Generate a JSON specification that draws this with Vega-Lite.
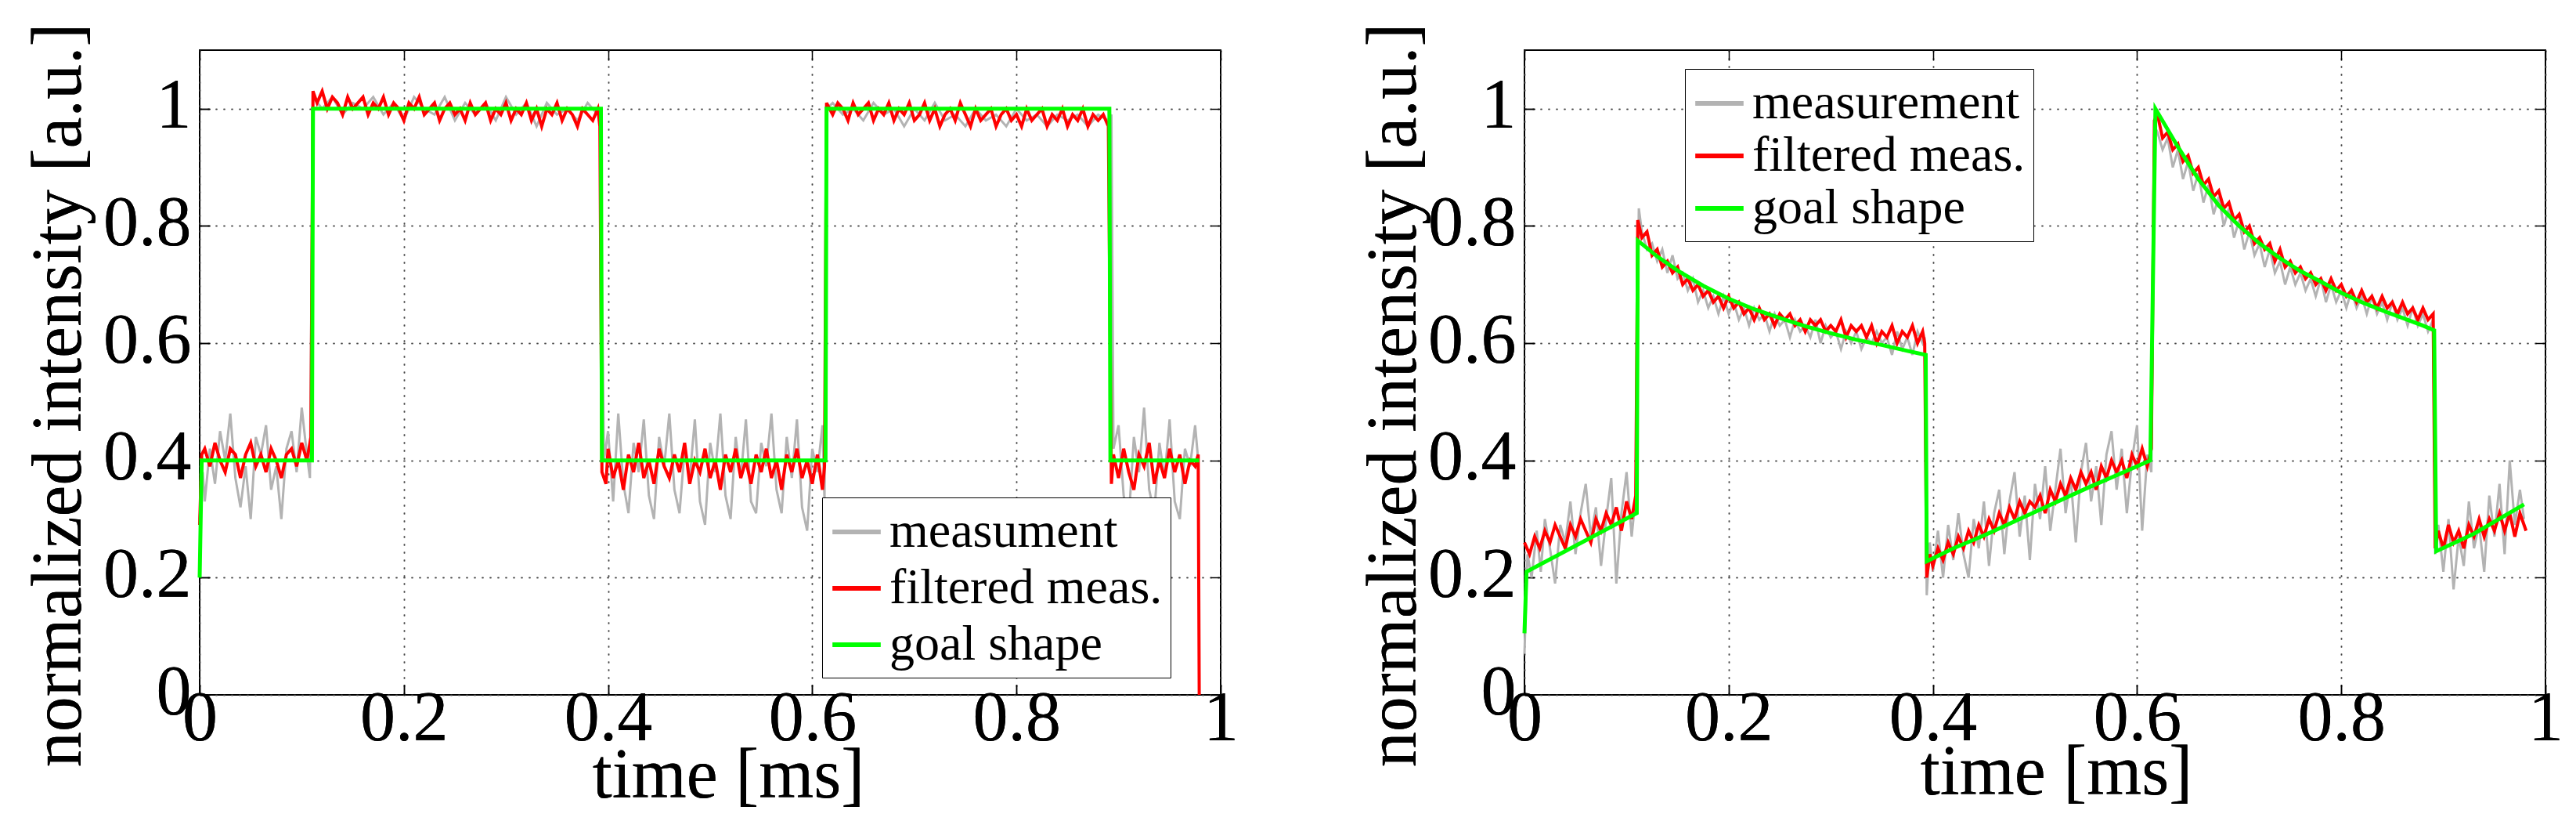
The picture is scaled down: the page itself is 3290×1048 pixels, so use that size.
{
  "$schema": "https://vega.github.io/schema/vega-lite/v6.json",
  "background": "white",
  "padding": {"left": 28, "top": 28, "right": 5, "bottom": 5},
  "spacing": 150,
  "config": {
    "view": {"stroke": "black", "strokeWidth": 2},
    "axis": {
      "labelFont": "Liberation Serif", "titleFont": "Liberation Serif",
      "labelFontSize": 90, "titleFontSize": 90, "titleFontWeight": "normal",
      "labelColor": "black", "titleColor": "black", "domain": false,
      "tickColor": "black", "tickWidth": 1.5, "tickSize": -13,
      "gridColor": "#444", "gridDash": [2, 8], "gridWidth": 1.5,
      "labelFlush": false, "labelOverlap": false
    },
    "legend": {
      "labelFont": "Liberation Serif", "labelFontSize": 64, "labelColor": "black", "labelLimit": 0,
      "symbolType": "stroke", "symbolStrokeWidth": 6, "symbolSize": 3800,
      "strokeColor": "black", "fillColor": "white", "padding": 10,
      "rowPadding": 5, "labelOffset": 8, "orient": "none"
    }
  },
  "resolve": {"scale": {"color": "independent"}},
  "datasets": {
    "L": [
      {"series":"goal shape","t":0,"v":0.2},{"series":"goal shape","t":0.002,"v":0.4},{"series":"goal shape","t":0.11,"v":0.4},{"series":"goal shape","t":0.111,"v":1.0},{"series":"goal shape","t":0.393,"v":1.0},{"series":"goal shape","t":0.394,"v":0.4},{"series":"goal shape","t":0.613,"v":0.4},{"series":"goal shape","t":0.614,"v":1.0},{"series":"goal shape","t":0.891,"v":1.0},{"series":"goal shape","t":0.892,"v":0.4},{"series":"goal shape","t":0.979,"v":0.4},

      {"series":"filtered meas.","t":0,"v":0.29},{"series":"filtered meas.","t":0.002,"v":0.41},{"series":"filtered meas.","t":0.005,"v":0.42},{"series":"filtered meas.","t":0.01,"v":0.39},{"series":"filtered meas.","t":0.015,"v":0.43},{"series":"filtered meas.","t":0.02,"v":0.40},{"series":"filtered meas.","t":0.025,"v":0.38},{"series":"filtered meas.","t":0.03,"v":0.42},{"series":"filtered meas.","t":0.035,"v":0.41},{"series":"filtered meas.","t":0.04,"v":0.37},{"series":"filtered meas.","t":0.045,"v":0.41},{"series":"filtered meas.","t":0.05,"v":0.43},{"series":"filtered meas.","t":0.055,"v":0.39},{"series":"filtered meas.","t":0.06,"v":0.41},{"series":"filtered meas.","t":0.065,"v":0.38},{"series":"filtered meas.","t":0.07,"v":0.42},{"series":"filtered meas.","t":0.075,"v":0.40},{"series":"filtered meas.","t":0.08,"v":0.37},{"series":"filtered meas.","t":0.085,"v":0.41},{"series":"filtered meas.","t":0.09,"v":0.42},{"series":"filtered meas.","t":0.095,"v":0.39},{"series":"filtered meas.","t":0.1,"v":0.43},{"series":"filtered meas.","t":0.105,"v":0.40},{"series":"filtered meas.","t":0.109,"v":0.44},
      {"series":"filtered meas.","t":0.111,"v":1.03},{"series":"filtered meas.","t":0.115,"v":1.01},{"series":"filtered meas.","t":0.12,"v":1.03},{"series":"filtered meas.","t":0.125,"v":1.00},{"series":"filtered meas.","t":0.13,"v":1.02},{"series":"filtered meas.","t":0.135,"v":1.01},{"series":"filtered meas.","t":0.14,"v":0.99},{"series":"filtered meas.","t":0.145,"v":1.02},{"series":"filtered meas.","t":0.15,"v":1.00},{"series":"filtered meas.","t":0.155,"v":1.01},{"series":"filtered meas.","t":0.16,"v":1.02},{"series":"filtered meas.","t":0.165,"v":0.99},{"series":"filtered meas.","t":0.17,"v":1.01},{"series":"filtered meas.","t":0.175,"v":1.00},{"series":"filtered meas.","t":0.18,"v":1.02},{"series":"filtered meas.","t":0.185,"v":0.99},{"series":"filtered meas.","t":0.19,"v":1.01},{"series":"filtered meas.","t":0.195,"v":1.00},{"series":"filtered meas.","t":0.2,"v":0.98},{"series":"filtered meas.","t":0.205,"v":1.01},{"series":"filtered meas.","t":0.21,"v":1.00},{"series":"filtered meas.","t":0.215,"v":1.02},{"series":"filtered meas.","t":0.22,"v":0.99},{"series":"filtered meas.","t":0.225,"v":1.00},{"series":"filtered meas.","t":0.23,"v":1.01},{"series":"filtered meas.","t":0.235,"v":0.98},{"series":"filtered meas.","t":0.24,"v":1.00},{"series":"filtered meas.","t":0.245,"v":1.01},{"series":"filtered meas.","t":0.25,"v":0.99},{"series":"filtered meas.","t":0.255,"v":1.00},{"series":"filtered meas.","t":0.26,"v":0.98},{"series":"filtered meas.","t":0.265,"v":1.01},{"series":"filtered meas.","t":0.27,"v":0.99},{"series":"filtered meas.","t":0.275,"v":1.00},{"series":"filtered meas.","t":0.28,"v":1.01},{"series":"filtered meas.","t":0.285,"v":0.98},{"series":"filtered meas.","t":0.29,"v":1.00},{"series":"filtered meas.","t":0.295,"v":0.99},{"series":"filtered meas.","t":0.3,"v":1.01},{"series":"filtered meas.","t":0.305,"v":0.98},{"series":"filtered meas.","t":0.31,"v":1.00},{"series":"filtered meas.","t":0.315,"v":0.99},{"series":"filtered meas.","t":0.32,"v":1.01},{"series":"filtered meas.","t":0.325,"v":0.98},{"series":"filtered meas.","t":0.33,"v":1.00},{"series":"filtered meas.","t":0.335,"v":0.97},{"series":"filtered meas.","t":0.34,"v":1.00},{"series":"filtered meas.","t":0.345,"v":0.99},{"series":"filtered meas.","t":0.35,"v":1.01},{"series":"filtered meas.","t":0.355,"v":0.98},{"series":"filtered meas.","t":0.36,"v":1.00},{"series":"filtered meas.","t":0.365,"v":0.99},{"series":"filtered meas.","t":0.37,"v":0.97},{"series":"filtered meas.","t":0.375,"v":1.00},{"series":"filtered meas.","t":0.38,"v":0.99},{"series":"filtered meas.","t":0.385,"v":0.98},{"series":"filtered meas.","t":0.39,"v":1.00},{"series":"filtered meas.","t":0.392,"v":0.97},
      {"series":"filtered meas.","t":0.394,"v":0.38},{"series":"filtered meas.","t":0.398,"v":0.36},{"series":"filtered meas.","t":0.4,"v":0.42},{"series":"filtered meas.","t":0.405,"v":0.37},{"series":"filtered meas.","t":0.41,"v":0.40},{"series":"filtered meas.","t":0.415,"v":0.35},{"series":"filtered meas.","t":0.42,"v":0.41},{"series":"filtered meas.","t":0.425,"v":0.38},{"series":"filtered meas.","t":0.43,"v":0.43},{"series":"filtered meas.","t":0.435,"v":0.37},{"series":"filtered meas.","t":0.44,"v":0.40},{"series":"filtered meas.","t":0.445,"v":0.36},{"series":"filtered meas.","t":0.45,"v":0.42},{"series":"filtered meas.","t":0.455,"v":0.39},{"series":"filtered meas.","t":0.46,"v":0.37},{"series":"filtered meas.","t":0.465,"v":0.41},{"series":"filtered meas.","t":0.47,"v":0.38},{"series":"filtered meas.","t":0.475,"v":0.43},{"series":"filtered meas.","t":0.48,"v":0.36},{"series":"filtered meas.","t":0.485,"v":0.40},{"series":"filtered meas.","t":0.49,"v":0.38},{"series":"filtered meas.","t":0.495,"v":0.42},{"series":"filtered meas.","t":0.5,"v":0.37},{"series":"filtered meas.","t":0.505,"v":0.40},{"series":"filtered meas.","t":0.51,"v":0.35},{"series":"filtered meas.","t":0.515,"v":0.41},{"series":"filtered meas.","t":0.52,"v":0.38},{"series":"filtered meas.","t":0.525,"v":0.42},{"series":"filtered meas.","t":0.53,"v":0.37},{"series":"filtered meas.","t":0.535,"v":0.40},{"series":"filtered meas.","t":0.54,"v":0.36},{"series":"filtered meas.","t":0.545,"v":0.41},{"series":"filtered meas.","t":0.55,"v":0.38},{"series":"filtered meas.","t":0.555,"v":0.42},{"series":"filtered meas.","t":0.56,"v":0.37},{"series":"filtered meas.","t":0.565,"v":0.40},{"series":"filtered meas.","t":0.57,"v":0.35},{"series":"filtered meas.","t":0.575,"v":0.41},{"series":"filtered meas.","t":0.58,"v":0.38},{"series":"filtered meas.","t":0.585,"v":0.42},{"series":"filtered meas.","t":0.59,"v":0.37},{"series":"filtered meas.","t":0.595,"v":0.40},{"series":"filtered meas.","t":0.6,"v":0.36},{"series":"filtered meas.","t":0.605,"v":0.41},{"series":"filtered meas.","t":0.61,"v":0.35},{"series":"filtered meas.","t":0.612,"v":0.39},
      {"series":"filtered meas.","t":0.614,"v":1.01},{"series":"filtered meas.","t":0.62,"v":0.99},{"series":"filtered meas.","t":0.625,"v":1.01},{"series":"filtered meas.","t":0.63,"v":1.00},{"series":"filtered meas.","t":0.635,"v":0.98},{"series":"filtered meas.","t":0.64,"v":1.01},{"series":"filtered meas.","t":0.645,"v":0.99},{"series":"filtered meas.","t":0.65,"v":1.00},{"series":"filtered meas.","t":0.655,"v":1.01},{"series":"filtered meas.","t":0.66,"v":0.98},{"series":"filtered meas.","t":0.665,"v":1.00},{"series":"filtered meas.","t":0.67,"v":0.99},{"series":"filtered meas.","t":0.675,"v":1.01},{"series":"filtered meas.","t":0.68,"v":0.98},{"series":"filtered meas.","t":0.685,"v":1.00},{"series":"filtered meas.","t":0.69,"v":0.99},{"series":"filtered meas.","t":0.695,"v":1.01},{"series":"filtered meas.","t":0.7,"v":0.98},{"series":"filtered meas.","t":0.705,"v":0.99},{"series":"filtered meas.","t":0.71,"v":1.01},{"series":"filtered meas.","t":0.715,"v":0.98},{"series":"filtered meas.","t":0.72,"v":1.00},{"series":"filtered meas.","t":0.725,"v":0.97},{"series":"filtered meas.","t":0.73,"v":0.99},{"series":"filtered meas.","t":0.735,"v":1.00},{"series":"filtered meas.","t":0.74,"v":0.98},{"series":"filtered meas.","t":0.745,"v":1.01},{"series":"filtered meas.","t":0.75,"v":0.99},{"series":"filtered meas.","t":0.755,"v":0.97},{"series":"filtered meas.","t":0.76,"v":1.00},{"series":"filtered meas.","t":0.765,"v":0.98},{"series":"filtered meas.","t":0.77,"v":0.99},{"series":"filtered meas.","t":0.775,"v":1.00},{"series":"filtered meas.","t":0.78,"v":0.97},{"series":"filtered meas.","t":0.785,"v":0.99},{"series":"filtered meas.","t":0.79,"v":1.00},{"series":"filtered meas.","t":0.795,"v":0.98},{"series":"filtered meas.","t":0.8,"v":0.99},{"series":"filtered meas.","t":0.805,"v":0.97},{"series":"filtered meas.","t":0.81,"v":1.00},{"series":"filtered meas.","t":0.815,"v":0.98},{"series":"filtered meas.","t":0.82,"v":0.99},{"series":"filtered meas.","t":0.825,"v":1.00},{"series":"filtered meas.","t":0.83,"v":0.97},{"series":"filtered meas.","t":0.835,"v":0.99},{"series":"filtered meas.","t":0.84,"v":0.98},{"series":"filtered meas.","t":0.845,"v":1.00},{"series":"filtered meas.","t":0.85,"v":0.97},{"series":"filtered meas.","t":0.855,"v":0.99},{"series":"filtered meas.","t":0.86,"v":0.98},{"series":"filtered meas.","t":0.865,"v":1.00},{"series":"filtered meas.","t":0.87,"v":0.97},{"series":"filtered meas.","t":0.875,"v":0.99},{"series":"filtered meas.","t":0.88,"v":0.98},{"series":"filtered meas.","t":0.885,"v":0.99},{"series":"filtered meas.","t":0.89,"v":0.97},
      {"series":"filtered meas.","t":0.893,"v":0.36},{"series":"filtered meas.","t":0.895,"v":0.41},{"series":"filtered meas.","t":0.9,"v":0.37},{"series":"filtered meas.","t":0.905,"v":0.42},{"series":"filtered meas.","t":0.91,"v":0.38},{"series":"filtered meas.","t":0.915,"v":0.35},{"series":"filtered meas.","t":0.92,"v":0.41},{"series":"filtered meas.","t":0.925,"v":0.39},{"series":"filtered meas.","t":0.93,"v":0.43},{"series":"filtered meas.","t":0.935,"v":0.36},{"series":"filtered meas.","t":0.94,"v":0.40},{"series":"filtered meas.","t":0.945,"v":0.37},{"series":"filtered meas.","t":0.95,"v":0.42},{"series":"filtered meas.","t":0.955,"v":0.38},{"series":"filtered meas.","t":0.96,"v":0.41},{"series":"filtered meas.","t":0.965,"v":0.36},{"series":"filtered meas.","t":0.97,"v":0.40},{"series":"filtered meas.","t":0.975,"v":0.39},{"series":"filtered meas.","t":0.978,"v":0.41},{"series":"filtered meas.","t":0.979,"v":0.0},

      {"series":"measument","t":0,"v":0.30},{"series":"measument","t":0.003,"v":0.38},{"series":"measument","t":0.005,"v":0.33},{"series":"measument","t":0.01,"v":0.42},{"series":"measument","t":0.015,"v":0.36},{"series":"measument","t":0.02,"v":0.45},{"series":"measument","t":0.025,"v":0.40},{"series":"measument","t":0.03,"v":0.48},{"series":"measument","t":0.035,"v":0.37},{"series":"measument","t":0.04,"v":0.32},{"series":"measument","t":0.045,"v":0.39},{"series":"measument","t":0.05,"v":0.30},{"series":"measument","t":0.055,"v":0.44},{"series":"measument","t":0.06,"v":0.41},{"series":"measument","t":0.065,"v":0.46},{"series":"measument","t":0.07,"v":0.35},{"series":"measument","t":0.075,"v":0.39},{"series":"measument","t":0.08,"v":0.30},{"series":"measument","t":0.085,"v":0.42},{"series":"measument","t":0.09,"v":0.45},{"series":"measument","t":0.095,"v":0.38},{"series":"measument","t":0.1,"v":0.49},{"series":"measument","t":0.105,"v":0.41},{"series":"measument","t":0.108,"v":0.37},
      {"series":"measument","t":0.111,"v":1.02},{"series":"measument","t":0.12,"v":1.00},{"series":"measument","t":0.13,"v":1.02},{"series":"measument","t":0.14,"v":0.99},{"series":"measument","t":0.15,"v":1.01},{"series":"measument","t":0.16,"v":1.00},{"series":"measument","t":0.17,"v":1.02},{"series":"measument","t":0.18,"v":0.99},{"series":"measument","t":0.19,"v":1.01},{"series":"measument","t":0.2,"v":0.98},{"series":"measument","t":0.21,"v":1.02},{"series":"measument","t":0.22,"v":1.00},{"series":"measument","t":0.23,"v":0.99},{"series":"measument","t":0.24,"v":1.02},{"series":"measument","t":0.25,"v":0.98},{"series":"measument","t":0.26,"v":1.01},{"series":"measument","t":0.27,"v":0.99},{"series":"measument","t":0.28,"v":1.01},{"series":"measument","t":0.29,"v":0.98},{"series":"measument","t":0.3,"v":1.02},{"series":"measument","t":0.31,"v":0.99},{"series":"measument","t":0.32,"v":1.01},{"series":"measument","t":0.33,"v":0.97},{"series":"measument","t":0.34,"v":1.01},{"series":"measument","t":0.35,"v":0.99},{"series":"measument","t":0.36,"v":1.00},{"series":"measument","t":0.37,"v":0.98},{"series":"measument","t":0.38,"v":1.01},{"series":"measument","t":0.39,"v":0.99},{"series":"measument","t":0.393,"v":0.99},
      {"series":"measument","t":0.394,"v":0.72},{"series":"measument","t":0.396,"v":0.40},{"series":"measument","t":0.4,"v":0.45},{"series":"measument","t":0.405,"v":0.33},{"series":"measument","t":0.41,"v":0.48},{"series":"measument","t":0.415,"v":0.36},{"series":"measument","t":0.42,"v":0.31},{"series":"measument","t":0.425,"v":0.43},{"series":"measument","t":0.43,"v":0.38},{"series":"measument","t":0.435,"v":0.47},{"series":"measument","t":0.44,"v":0.34},{"series":"measument","t":0.445,"v":0.30},{"series":"measument","t":0.45,"v":0.44},{"series":"measument","t":0.455,"v":0.39},{"series":"measument","t":0.46,"v":0.48},{"series":"measument","t":0.465,"v":0.35},{"series":"measument","t":0.47,"v":0.31},{"series":"measument","t":0.475,"v":0.42},{"series":"measument","t":0.48,"v":0.37},{"series":"measument","t":0.485,"v":0.47},{"series":"measument","t":0.49,"v":0.33},{"series":"measument","t":0.495,"v":0.29},{"series":"measument","t":0.5,"v":0.43},{"series":"measument","t":0.505,"v":0.38},{"series":"measument","t":0.51,"v":0.48},{"series":"measument","t":0.515,"v":0.34},{"series":"measument","t":0.52,"v":0.30},{"series":"measument","t":0.525,"v":0.44},{"series":"measument","t":0.53,"v":0.37},{"series":"measument","t":0.535,"v":0.47},{"series":"measument","t":0.54,"v":0.33},{"series":"measument","t":0.545,"v":0.31},{"series":"measument","t":0.55,"v":0.43},{"series":"measument","t":0.555,"v":0.39},{"series":"measument","t":0.56,"v":0.48},{"series":"measument","t":0.565,"v":0.35},{"series":"measument","t":0.57,"v":0.31},{"series":"measument","t":0.575,"v":0.44},{"series":"measument","t":0.58,"v":0.37},{"series":"measument","t":0.585,"v":0.47},{"series":"measument","t":0.59,"v":0.32},{"series":"measument","t":0.595,"v":0.28},{"series":"measument","t":0.6,"v":0.42},{"series":"measument","t":0.605,"v":0.38},{"series":"measument","t":0.61,"v":0.46},{"series":"measument","t":0.612,"v":0.33},
      {"series":"measument","t":0.614,"v":1.00},{"series":"measument","t":0.62,"v":1.01},{"series":"measument","t":0.63,"v":0.99},{"series":"measument","t":0.64,"v":1.00},{"series":"measument","t":0.65,"v":0.98},{"series":"measument","t":0.66,"v":1.01},{"series":"measument","t":0.67,"v":0.99},{"series":"measument","t":0.68,"v":1.00},{"series":"measument","t":0.69,"v":0.97},{"series":"measument","t":0.7,"v":1.00},{"series":"measument","t":0.71,"v":0.98},{"series":"measument","t":0.72,"v":1.01},{"series":"measument","t":0.73,"v":0.98},{"series":"measument","t":0.74,"v":0.99},{"series":"measument","t":0.75,"v":0.97},{"series":"measument","t":0.76,"v":1.00},{"series":"measument","t":0.77,"v":0.98},{"series":"measument","t":0.78,"v":0.99},{"series":"measument","t":0.79,"v":0.97},{"series":"measument","t":0.8,"v":1.00},{"series":"measument","t":0.81,"v":0.98},{"series":"measument","t":0.82,"v":0.99},{"series":"measument","t":0.83,"v":0.97},{"series":"measument","t":0.84,"v":0.99},{"series":"measument","t":0.85,"v":0.98},{"series":"measument","t":0.86,"v":0.99},{"series":"measument","t":0.87,"v":0.97},{"series":"measument","t":0.88,"v":0.99},{"series":"measument","t":0.89,"v":0.98},{"series":"measument","t":0.893,"v":0.99},
      {"series":"measument","t":0.895,"v":0.42},{"series":"measument","t":0.9,"v":0.46},{"series":"measument","t":0.905,"v":0.34},{"series":"measument","t":0.91,"v":0.30},{"series":"measument","t":0.915,"v":0.44},{"series":"measument","t":0.92,"v":0.38},{"series":"measument","t":0.925,"v":0.49},{"series":"measument","t":0.93,"v":0.35},{"series":"measument","t":0.935,"v":0.31},{"series":"measument","t":0.94,"v":0.43},{"series":"measument","t":0.945,"v":0.37},{"series":"measument","t":0.95,"v":0.47},{"series":"measument","t":0.955,"v":0.33},{"series":"measument","t":0.96,"v":0.30},{"series":"measument","t":0.965,"v":0.42},{"series":"measument","t":0.97,"v":0.39},{"series":"measument","t":0.975,"v":0.46},{"series":"measument","t":0.978,"v":0.40}
    ],
    "R": [
      {"series":"goal shape","t":0,"v":0.105},{"series":"goal shape","t":0.002,"v":0.21},{"series":"goal shape","t":0.11,"v":0.31},{"series":"goal shape","t":0.111,"v":0.775},{"series":"goal shape","t":0.13,"v":0.748},{"series":"goal shape","t":0.15,"v":0.724},{"series":"goal shape","t":0.175,"v":0.698},{"series":"goal shape","t":0.2,"v":0.676},{"series":"goal shape","t":0.225,"v":0.658},{"series":"goal shape","t":0.25,"v":0.643},{"series":"goal shape","t":0.275,"v":0.629},{"series":"goal shape","t":0.3,"v":0.617},{"series":"goal shape","t":0.325,"v":0.606},{"series":"goal shape","t":0.35,"v":0.597},{"series":"goal shape","t":0.375,"v":0.587},{"series":"goal shape","t":0.393,"v":0.58},{"series":"goal shape","t":0.394,"v":0.228},{"series":"goal shape","t":0.42,"v":0.25},{"series":"goal shape","t":0.45,"v":0.272},{"series":"goal shape","t":0.5,"v":0.312},{"series":"goal shape","t":0.55,"v":0.352},{"series":"goal shape","t":0.6,"v":0.39},{"series":"goal shape","t":0.613,"v":0.40},{"series":"goal shape","t":0.618,"v":1.0},{"series":"goal shape","t":0.64,"v":0.935},{"series":"goal shape","t":0.66,"v":0.88},{"series":"goal shape","t":0.68,"v":0.835},{"series":"goal shape","t":0.7,"v":0.80},{"series":"goal shape","t":0.72,"v":0.77},{"series":"goal shape","t":0.74,"v":0.745},{"series":"goal shape","t":0.76,"v":0.723},{"series":"goal shape","t":0.78,"v":0.705},{"series":"goal shape","t":0.8,"v":0.686},{"series":"goal shape","t":0.82,"v":0.67},{"series":"goal shape","t":0.84,"v":0.656},{"series":"goal shape","t":0.86,"v":0.643},{"series":"goal shape","t":0.88,"v":0.63},{"series":"goal shape","t":0.891,"v":0.622},{"series":"goal shape","t":0.893,"v":0.245},{"series":"goal shape","t":0.93,"v":0.275},{"series":"goal shape","t":0.979,"v":0.325},

      {"series":"filtered meas.","t":0,"v":0.26},{"series":"filtered meas.","t":0.005,"v":0.24},{"series":"filtered meas.","t":0.01,"v":0.27},{"series":"filtered meas.","t":0.015,"v":0.25},{"series":"filtered meas.","t":0.02,"v":0.28},{"series":"filtered meas.","t":0.025,"v":0.26},{"series":"filtered meas.","t":0.03,"v":0.29},{"series":"filtered meas.","t":0.035,"v":0.27},{"series":"filtered meas.","t":0.04,"v":0.25},{"series":"filtered meas.","t":0.045,"v":0.29},{"series":"filtered meas.","t":0.05,"v":0.27},{"series":"filtered meas.","t":0.055,"v":0.30},{"series":"filtered meas.","t":0.06,"v":0.28},{"series":"filtered meas.","t":0.065,"v":0.26},{"series":"filtered meas.","t":0.07,"v":0.30},{"series":"filtered meas.","t":0.075,"v":0.28},{"series":"filtered meas.","t":0.08,"v":0.31},{"series":"filtered meas.","t":0.085,"v":0.29},{"series":"filtered meas.","t":0.09,"v":0.32},{"series":"filtered meas.","t":0.095,"v":0.28},{"series":"filtered meas.","t":0.1,"v":0.33},{"series":"filtered meas.","t":0.105,"v":0.30},{"series":"filtered meas.","t":0.109,"v":0.34},
      {"series":"filtered meas.","t":0.111,"v":0.81},{"series":"filtered meas.","t":0.115,"v":0.78},{"series":"filtered meas.","t":0.12,"v":0.79},{"series":"filtered meas.","t":0.125,"v":0.75},{"series":"filtered meas.","t":0.13,"v":0.76},{"series":"filtered meas.","t":0.135,"v":0.73},{"series":"filtered meas.","t":0.14,"v":0.74},{"series":"filtered meas.","t":0.145,"v":0.72},{"series":"filtered meas.","t":0.15,"v":0.73},{"series":"filtered meas.","t":0.155,"v":0.70},{"series":"filtered meas.","t":0.16,"v":0.71},{"series":"filtered meas.","t":0.165,"v":0.69},{"series":"filtered meas.","t":0.17,"v":0.70},{"series":"filtered meas.","t":0.175,"v":0.68},{"series":"filtered meas.","t":0.18,"v":0.69},{"series":"filtered meas.","t":0.185,"v":0.67},{"series":"filtered meas.","t":0.19,"v":0.68},{"series":"filtered meas.","t":0.195,"v":0.66},{"series":"filtered meas.","t":0.2,"v":0.68},{"series":"filtered meas.","t":0.205,"v":0.66},{"series":"filtered meas.","t":0.21,"v":0.67},{"series":"filtered meas.","t":0.215,"v":0.65},{"series":"filtered meas.","t":0.22,"v":0.66},{"series":"filtered meas.","t":0.225,"v":0.64},{"series":"filtered meas.","t":0.23,"v":0.66},{"series":"filtered meas.","t":0.235,"v":0.64},{"series":"filtered meas.","t":0.24,"v":0.65},{"series":"filtered meas.","t":0.245,"v":0.63},{"series":"filtered meas.","t":0.25,"v":0.65},{"series":"filtered meas.","t":0.255,"v":0.64},{"series":"filtered meas.","t":0.26,"v":0.65},{"series":"filtered meas.","t":0.265,"v":0.63},{"series":"filtered meas.","t":0.27,"v":0.64},{"series":"filtered meas.","t":0.275,"v":0.62},{"series":"filtered meas.","t":0.28,"v":0.64},{"series":"filtered meas.","t":0.285,"v":0.63},{"series":"filtered meas.","t":0.29,"v":0.64},{"series":"filtered meas.","t":0.295,"v":0.62},{"series":"filtered meas.","t":0.3,"v":0.63},{"series":"filtered meas.","t":0.305,"v":0.62},{"series":"filtered meas.","t":0.31,"v":0.64},{"series":"filtered meas.","t":0.315,"v":0.61},{"series":"filtered meas.","t":0.32,"v":0.63},{"series":"filtered meas.","t":0.325,"v":0.62},{"series":"filtered meas.","t":0.33,"v":0.63},{"series":"filtered meas.","t":0.335,"v":0.61},{"series":"filtered meas.","t":0.34,"v":0.63},{"series":"filtered meas.","t":0.345,"v":0.60},{"series":"filtered meas.","t":0.35,"v":0.62},{"series":"filtered meas.","t":0.355,"v":0.61},{"series":"filtered meas.","t":0.36,"v":0.63},{"series":"filtered meas.","t":0.365,"v":0.60},{"series":"filtered meas.","t":0.37,"v":0.62},{"series":"filtered meas.","t":0.375,"v":0.61},{"series":"filtered meas.","t":0.38,"v":0.63},{"series":"filtered meas.","t":0.385,"v":0.60},{"series":"filtered meas.","t":0.39,"v":0.62},{"series":"filtered meas.","t":0.392,"v":0.60},
      {"series":"filtered meas.","t":0.394,"v":0.20},{"series":"filtered meas.","t":0.397,"v":0.24},{"series":"filtered meas.","t":0.4,"v":0.22},{"series":"filtered meas.","t":0.405,"v":0.25},{"series":"filtered meas.","t":0.41,"v":0.23},{"series":"filtered meas.","t":0.415,"v":0.26},{"series":"filtered meas.","t":0.42,"v":0.24},{"series":"filtered meas.","t":0.425,"v":0.27},{"series":"filtered meas.","t":0.43,"v":0.25},{"series":"filtered meas.","t":0.435,"v":0.28},{"series":"filtered meas.","t":0.44,"v":0.26},{"series":"filtered meas.","t":0.445,"v":0.29},{"series":"filtered meas.","t":0.45,"v":0.27},{"series":"filtered meas.","t":0.455,"v":0.30},{"series":"filtered meas.","t":0.46,"v":0.28},{"series":"filtered meas.","t":0.465,"v":0.31},{"series":"filtered meas.","t":0.47,"v":0.29},{"series":"filtered meas.","t":0.475,"v":0.32},{"series":"filtered meas.","t":0.48,"v":0.30},{"series":"filtered meas.","t":0.485,"v":0.33},{"series":"filtered meas.","t":0.49,"v":0.31},{"series":"filtered meas.","t":0.495,"v":0.33},{"series":"filtered meas.","t":0.5,"v":0.32},{"series":"filtered meas.","t":0.505,"v":0.34},{"series":"filtered meas.","t":0.51,"v":0.31},{"series":"filtered meas.","t":0.515,"v":0.35},{"series":"filtered meas.","t":0.52,"v":0.33},{"series":"filtered meas.","t":0.525,"v":0.36},{"series":"filtered meas.","t":0.53,"v":0.34},{"series":"filtered meas.","t":0.535,"v":0.37},{"series":"filtered meas.","t":0.54,"v":0.35},{"series":"filtered meas.","t":0.545,"v":0.38},{"series":"filtered meas.","t":0.55,"v":0.36},{"series":"filtered meas.","t":0.555,"v":0.38},{"series":"filtered meas.","t":0.56,"v":0.35},{"series":"filtered meas.","t":0.565,"v":0.39},{"series":"filtered meas.","t":0.57,"v":0.37},{"series":"filtered meas.","t":0.575,"v":0.40},{"series":"filtered meas.","t":0.58,"v":0.38},{"series":"filtered meas.","t":0.585,"v":0.40},{"series":"filtered meas.","t":0.59,"v":0.37},{"series":"filtered meas.","t":0.595,"v":0.41},{"series":"filtered meas.","t":0.6,"v":0.39},{"series":"filtered meas.","t":0.605,"v":0.42},{"series":"filtered meas.","t":0.61,"v":0.39},{"series":"filtered meas.","t":0.614,"v":0.42},
      {"series":"filtered meas.","t":0.617,"v":0.98},{"series":"filtered meas.","t":0.62,"v":0.99},{"series":"filtered meas.","t":0.625,"v":0.95},{"series":"filtered meas.","t":0.63,"v":0.96},{"series":"filtered meas.","t":0.635,"v":0.93},{"series":"filtered meas.","t":0.64,"v":0.94},{"series":"filtered meas.","t":0.645,"v":0.91},{"series":"filtered meas.","t":0.65,"v":0.92},{"series":"filtered meas.","t":0.655,"v":0.89},{"series":"filtered meas.","t":0.66,"v":0.90},{"series":"filtered meas.","t":0.665,"v":0.87},{"series":"filtered meas.","t":0.67,"v":0.88},{"series":"filtered meas.","t":0.675,"v":0.85},{"series":"filtered meas.","t":0.68,"v":0.86},{"series":"filtered meas.","t":0.685,"v":0.83},{"series":"filtered meas.","t":0.69,"v":0.84},{"series":"filtered meas.","t":0.695,"v":0.81},{"series":"filtered meas.","t":0.7,"v":0.82},{"series":"filtered meas.","t":0.705,"v":0.79},{"series":"filtered meas.","t":0.71,"v":0.80},{"series":"filtered meas.","t":0.715,"v":0.77},{"series":"filtered meas.","t":0.72,"v":0.78},{"series":"filtered meas.","t":0.725,"v":0.76},{"series":"filtered meas.","t":0.73,"v":0.77},{"series":"filtered meas.","t":0.735,"v":0.74},{"series":"filtered meas.","t":0.74,"v":0.76},{"series":"filtered meas.","t":0.745,"v":0.73},{"series":"filtered meas.","t":0.75,"v":0.74},{"series":"filtered meas.","t":0.755,"v":0.72},{"series":"filtered meas.","t":0.76,"v":0.73},{"series":"filtered meas.","t":0.765,"v":0.71},{"series":"filtered meas.","t":0.77,"v":0.72},{"series":"filtered meas.","t":0.775,"v":0.70},{"series":"filtered meas.","t":0.78,"v":0.71},{"series":"filtered meas.","t":0.785,"v":0.69},{"series":"filtered meas.","t":0.79,"v":0.71},{"series":"filtered meas.","t":0.795,"v":0.69},{"series":"filtered meas.","t":0.8,"v":0.70},{"series":"filtered meas.","t":0.805,"v":0.68},{"series":"filtered meas.","t":0.81,"v":0.69},{"series":"filtered meas.","t":0.815,"v":0.67},{"series":"filtered meas.","t":0.82,"v":0.69},{"series":"filtered meas.","t":0.825,"v":0.67},{"series":"filtered meas.","t":0.83,"v":0.68},{"series":"filtered meas.","t":0.835,"v":0.66},{"series":"filtered meas.","t":0.84,"v":0.68},{"series":"filtered meas.","t":0.845,"v":0.66},{"series":"filtered meas.","t":0.85,"v":0.67},{"series":"filtered meas.","t":0.855,"v":0.65},{"series":"filtered meas.","t":0.86,"v":0.67},{"series":"filtered meas.","t":0.865,"v":0.65},{"series":"filtered meas.","t":0.87,"v":0.66},{"series":"filtered meas.","t":0.875,"v":0.64},{"series":"filtered meas.","t":0.88,"v":0.66},{"series":"filtered meas.","t":0.885,"v":0.64},{"series":"filtered meas.","t":0.89,"v":0.65},
      {"series":"filtered meas.","t":0.892,"v":0.25},{"series":"filtered meas.","t":0.895,"v":0.28},{"series":"filtered meas.","t":0.9,"v":0.25},{"series":"filtered meas.","t":0.905,"v":0.29},{"series":"filtered meas.","t":0.91,"v":0.26},{"series":"filtered meas.","t":0.915,"v":0.28},{"series":"filtered meas.","t":0.92,"v":0.25},{"series":"filtered meas.","t":0.925,"v":0.29},{"series":"filtered meas.","t":0.93,"v":0.27},{"series":"filtered meas.","t":0.935,"v":0.30},{"series":"filtered meas.","t":0.94,"v":0.27},{"series":"filtered meas.","t":0.945,"v":0.30},{"series":"filtered meas.","t":0.95,"v":0.28},{"series":"filtered meas.","t":0.955,"v":0.31},{"series":"filtered meas.","t":0.96,"v":0.28},{"series":"filtered meas.","t":0.965,"v":0.31},{"series":"filtered meas.","t":0.97,"v":0.27},{"series":"filtered meas.","t":0.975,"v":0.31},{"series":"filtered meas.","t":0.981,"v":0.28},

      {"series":"measurement","t":0,"v":0.07},{"series":"measurement","t":0.003,"v":0.24},{"series":"measurement","t":0.007,"v":0.20},{"series":"measurement","t":0.012,"v":0.28},{"series":"measurement","t":0.016,"v":0.21},{"series":"measurement","t":0.02,"v":0.30},{"series":"measurement","t":0.025,"v":0.25},{"series":"measurement","t":0.03,"v":0.19},{"series":"measurement","t":0.035,"v":0.29},{"series":"measurement","t":0.04,"v":0.26},{"series":"measurement","t":0.045,"v":0.33},{"series":"measurement","t":0.05,"v":0.24},{"series":"measurement","t":0.055,"v":0.31},{"series":"measurement","t":0.06,"v":0.36},{"series":"measurement","t":0.065,"v":0.27},{"series":"measurement","t":0.07,"v":0.32},{"series":"measurement","t":0.075,"v":0.22},{"series":"measurement","t":0.08,"v":0.30},{"series":"measurement","t":0.085,"v":0.37},{"series":"measurement","t":0.09,"v":0.19},{"series":"measurement","t":0.095,"v":0.31},{"series":"measurement","t":0.1,"v":0.38},{"series":"measurement","t":0.105,"v":0.27},{"series":"measurement","t":0.109,"v":0.34},
      {"series":"measurement","t":0.112,"v":0.83},{"series":"measurement","t":0.115,"v":0.79},{"series":"measurement","t":0.12,"v":0.76},{"series":"measurement","t":0.125,"v":0.77},{"series":"measurement","t":0.13,"v":0.74},{"series":"measurement","t":0.135,"v":0.76},{"series":"measurement","t":0.14,"v":0.72},{"series":"measurement","t":0.145,"v":0.75},{"series":"measurement","t":0.15,"v":0.71},{"series":"measurement","t":0.155,"v":0.72},{"series":"measurement","t":0.16,"v":0.69},{"series":"measurement","t":0.165,"v":0.71},{"series":"measurement","t":0.17,"v":0.67},{"series":"measurement","t":0.175,"v":0.69},{"series":"measurement","t":0.18,"v":0.66},{"series":"measurement","t":0.185,"v":0.68},{"series":"measurement","t":0.19,"v":0.65},{"series":"measurement","t":0.195,"v":0.68},{"series":"measurement","t":0.2,"v":0.65},{"series":"measurement","t":0.205,"v":0.67},{"series":"measurement","t":0.21,"v":0.64},{"series":"measurement","t":0.215,"v":0.66},{"series":"measurement","t":0.22,"v":0.63},{"series":"measurement","t":0.225,"v":0.66},{"series":"measurement","t":0.23,"v":0.64},{"series":"measurement","t":0.235,"v":0.65},{"series":"measurement","t":0.24,"v":0.62},{"series":"measurement","t":0.245,"v":0.65},{"series":"measurement","t":0.25,"v":0.63},{"series":"measurement","t":0.255,"v":0.64},{"series":"measurement","t":0.26,"v":0.61},{"series":"measurement","t":0.265,"v":0.64},{"series":"measurement","t":0.27,"v":0.62},{"series":"measurement","t":0.275,"v":0.63},{"series":"measurement","t":0.28,"v":0.61},{"series":"measurement","t":0.285,"v":0.64},{"series":"measurement","t":0.29,"v":0.60},{"series":"measurement","t":0.295,"v":0.63},{"series":"measurement","t":0.3,"v":0.61},{"series":"measurement","t":0.305,"v":0.62},{"series":"measurement","t":0.31,"v":0.59},{"series":"measurement","t":0.315,"v":0.62},{"series":"measurement","t":0.32,"v":0.60},{"series":"measurement","t":0.325,"v":0.62},{"series":"measurement","t":0.33,"v":0.59},{"series":"measurement","t":0.335,"v":0.61},{"series":"measurement","t":0.34,"v":0.60},{"series":"measurement","t":0.345,"v":0.62},{"series":"measurement","t":0.35,"v":0.60},{"series":"measurement","t":0.355,"v":0.61},{"series":"measurement","t":0.36,"v":0.58},{"series":"measurement","t":0.365,"v":0.62},{"series":"measurement","t":0.37,"v":0.59},{"series":"measurement","t":0.375,"v":0.61},{"series":"measurement","t":0.38,"v":0.58},{"series":"measurement","t":0.385,"v":0.62},{"series":"measurement","t":0.39,"v":0.60},{"series":"measurement","t":0.392,"v":0.61},
      {"series":"measurement","t":0.394,"v":0.17},{"series":"measurement","t":0.397,"v":0.26},{"series":"measurement","t":0.4,"v":0.21},{"series":"measurement","t":0.405,"v":0.28},{"series":"measurement","t":0.41,"v":0.20},{"series":"measurement","t":0.415,"v":0.29},{"series":"measurement","t":0.42,"v":0.23},{"series":"measurement","t":0.425,"v":0.31},{"series":"measurement","t":0.43,"v":0.24},{"series":"measurement","t":0.435,"v":0.20},{"series":"measurement","t":0.44,"v":0.30},{"series":"measurement","t":0.445,"v":0.25},{"series":"measurement","t":0.45,"v":0.33},{"series":"measurement","t":0.455,"v":0.22},{"series":"measurement","t":0.46,"v":0.31},{"series":"measurement","t":0.465,"v":0.35},{"series":"measurement","t":0.47,"v":0.24},{"series":"measurement","t":0.475,"v":0.33},{"series":"measurement","t":0.48,"v":0.38},{"series":"measurement","t":0.485,"v":0.27},{"series":"measurement","t":0.49,"v":0.34},{"series":"measurement","t":0.495,"v":0.23},{"series":"measurement","t":0.5,"v":0.36},{"series":"measurement","t":0.505,"v":0.30},{"series":"measurement","t":0.51,"v":0.39},{"series":"measurement","t":0.515,"v":0.28},{"series":"measurement","t":0.52,"v":0.35},{"series":"measurement","t":0.525,"v":0.42},{"series":"measurement","t":0.53,"v":0.31},{"series":"measurement","t":0.535,"v":0.37},{"series":"measurement","t":0.54,"v":0.26},{"series":"measurement","t":0.545,"v":0.38},{"series":"measurement","t":0.55,"v":0.43},{"series":"measurement","t":0.555,"v":0.33},{"series":"measurement","t":0.56,"v":0.39},{"series":"measurement","t":0.565,"v":0.29},{"series":"measurement","t":0.57,"v":0.41},{"series":"measurement","t":0.575,"v":0.45},{"series":"measurement","t":0.58,"v":0.35},{"series":"measurement","t":0.585,"v":0.42},{"series":"measurement","t":0.59,"v":0.31},{"series":"measurement","t":0.595,"v":0.40},{"series":"measurement","t":0.6,"v":0.46},{"series":"measurement","t":0.605,"v":0.28},{"series":"measurement","t":0.61,"v":0.41},{"series":"measurement","t":0.614,"v":0.38},
      {"series":"measurement","t":0.617,"v":0.97},{"series":"measurement","t":0.62,"v":0.96},{"series":"measurement","t":0.625,"v":0.93},{"series":"measurement","t":0.63,"v":0.95},{"series":"measurement","t":0.635,"v":0.90},{"series":"measurement","t":0.64,"v":0.93},{"series":"measurement","t":0.645,"v":0.88},{"series":"measurement","t":0.65,"v":0.91},{"series":"measurement","t":0.655,"v":0.86},{"series":"measurement","t":0.66,"v":0.89},{"series":"measurement","t":0.665,"v":0.84},{"series":"measurement","t":0.67,"v":0.87},{"series":"measurement","t":0.675,"v":0.82},{"series":"measurement","t":0.68,"v":0.85},{"series":"measurement","t":0.685,"v":0.80},{"series":"measurement","t":0.69,"v":0.83},{"series":"measurement","t":0.695,"v":0.78},{"series":"measurement","t":0.7,"v":0.81},{"series":"measurement","t":0.705,"v":0.76},{"series":"measurement","t":0.71,"v":0.79},{"series":"measurement","t":0.715,"v":0.75},{"series":"measurement","t":0.72,"v":0.77},{"series":"measurement","t":0.725,"v":0.73},{"series":"measurement","t":0.73,"v":0.76},{"series":"measurement","t":0.735,"v":0.72},{"series":"measurement","t":0.74,"v":0.74},{"series":"measurement","t":0.745,"v":0.70},{"series":"measurement","t":0.75,"v":0.73},{"series":"measurement","t":0.755,"v":0.70},{"series":"measurement","t":0.76,"v":0.72},{"series":"measurement","t":0.765,"v":0.69},{"series":"measurement","t":0.77,"v":0.71},{"series":"measurement","t":0.775,"v":0.68},{"series":"measurement","t":0.78,"v":0.71},{"series":"measurement","t":0.785,"v":0.67},{"series":"measurement","t":0.79,"v":0.70},{"series":"measurement","t":0.795,"v":0.67},{"series":"measurement","t":0.8,"v":0.69},{"series":"measurement","t":0.805,"v":0.66},{"series":"measurement","t":0.81,"v":0.69},{"series":"measurement","t":0.815,"v":0.66},{"series":"measurement","t":0.82,"v":0.68},{"series":"measurement","t":0.825,"v":0.65},{"series":"measurement","t":0.83,"v":0.68},{"series":"measurement","t":0.835,"v":0.65},{"series":"measurement","t":0.84,"v":0.67},{"series":"measurement","t":0.845,"v":0.64},{"series":"measurement","t":0.85,"v":0.67},{"series":"measurement","t":0.855,"v":0.64},{"series":"measurement","t":0.86,"v":0.66},{"series":"measurement","t":0.865,"v":0.63},{"series":"measurement","t":0.87,"v":0.66},{"series":"measurement","t":0.875,"v":0.63},{"series":"measurement","t":0.88,"v":0.65},{"series":"measurement","t":0.885,"v":0.62},{"series":"measurement","t":0.89,"v":0.64},
      {"series":"measurement","t":0.892,"v":0.24},{"series":"measurement","t":0.895,"v":0.29},{"series":"measurement","t":0.9,"v":0.21},{"series":"measurement","t":0.905,"v":0.30},{"series":"measurement","t":0.91,"v":0.18},{"series":"measurement","t":0.915,"v":0.27},{"series":"measurement","t":0.92,"v":0.22},{"series":"measurement","t":0.925,"v":0.33},{"series":"measurement","t":0.93,"v":0.25},{"series":"measurement","t":0.935,"v":0.29},{"series":"measurement","t":0.94,"v":0.21},{"series":"measurement","t":0.945,"v":0.34},{"series":"measurement","t":0.95,"v":0.27},{"series":"measurement","t":0.955,"v":0.36},{"series":"measurement","t":0.96,"v":0.24},{"series":"measurement","t":0.965,"v":0.40},{"series":"measurement","t":0.97,"v":0.29},{"series":"measurement","t":0.975,"v":0.35},{"series":"measurement","t":0.979,"v":0.30}
    ]
  },
  "hconcat": [
    {
      "width": 1304, "height": 823,
      "data": {"name": "L"},
      "resolve": {"axis": {"x": "independent", "y": "independent"}},
      "encoding": {
        "x": {"field": "t", "type": "quantitative", "scale": {"domain": [0, 1], "nice": false, "zero": false},
              "axis": {"orient": "bottom", "title": "time [ms]", "values": [0, 0.2, 0.4, 0.6, 0.8, 1], "format": "~g", "grid": true,
                       "labelBaseline": "alphabetic", "labelPadding": 70, "titleX": 675, "titleY": 130, "titleBaseline": "alphabetic", "titleAnchor": "start", "titleAlign": "center"}},
        "y": {"field": "v", "type": "quantitative", "scale": {"domain": [0, 1.1], "nice": false},
              "axis": {"orient": "left", "title": "normalized intensity [a.u.]", "values": [0, 0.2, 0.4, 0.6, 0.8, 1], "format": "~g", "grid": true,
                       "labelBaseline": "alphabetic", "labelOffset": 24, "labelPadding": 24, "titleX": -153, "titleY": 440, "titleAngle": -90, "titleAlign": "center", "titleBaseline": "alphabetic"}},
        "color": {"field": "series", "type": "nominal",
                  "scale": {"domain": ["measument", "filtered meas.", "goal shape"], "range": ["#b3b3b3", "#ff0000", "#00ff00"]},
                  "legend": {"title": null, "legendX": 795, "legendY": 571, "rowPadding": 6}}
      },
      "layer": [
        {"transform": [{"filter": "datum.series === 'measument'"}], "mark": {"type": "line", "strokeWidth": 3}},
        {"transform": [{"filter": "datum.series === 'filtered meas.'"}], "mark": {"type": "line", "strokeWidth": 4}},
        {"transform": [{"filter": "datum.series === 'goal shape'"}], "mark": {"type": "line", "strokeWidth": 5},
         "encoding": {
           "x": {"field": "t", "type": "quantitative", "scale": {"domain": [0, 1], "nice": false, "zero": false},
                 "axis": {"orient": "top", "title": null, "labels": false, "grid": false, "values": [0, 0.2, 0.4, 0.6, 0.8, 1]}},
           "y": {"field": "v", "type": "quantitative", "scale": {"domain": [0, 1.1], "nice": false},
                 "axis": {"orient": "right", "title": null, "labels": false, "grid": false, "values": [0, 0.2, 0.4, 0.6, 0.8, 1]}}
         }}
      ]
    },
    {
      "width": 1304, "height": 823,
      "data": {"name": "R"},
      "resolve": {"axis": {"x": "independent", "y": "independent"}},
      "encoding": {
        "x": {"field": "t", "type": "quantitative", "scale": {"domain": [0, 1], "nice": false, "zero": false},
              "axis": {"orient": "bottom", "title": "time [ms]", "values": [0, 0.2, 0.4, 0.6, 0.8, 1], "format": "~g", "grid": true,
                       "labelBaseline": "alphabetic", "labelPadding": 70, "titleX": 679, "titleY": 126, "titleBaseline": "alphabetic", "titleAnchor": "start", "titleAlign": "center"}},
        "y": {"field": "v", "type": "quantitative", "scale": {"domain": [0, 1.1], "nice": false},
              "axis": {"orient": "left", "title": "normalized intensity [a.u.]", "values": [0, 0.2, 0.4, 0.6, 0.8, 1], "format": "~g", "grid": true,
                       "labelBaseline": "alphabetic", "labelOffset": 24, "labelPadding": 24, "titleX": -140, "titleY": 440, "titleAngle": -90, "titleAlign": "center", "titleBaseline": "alphabetic"}},
        "color": {"field": "series", "type": "nominal",
                  "scale": {"domain": ["measurement", "filtered meas.", "goal shape"], "range": ["#b3b3b3", "#ff0000", "#00ff00"]},
                  "legend": {"title": null, "legendX": 205, "legendY": 24, "rowPadding": 1}}
      },
      "layer": [
        {"transform": [{"filter": "datum.series === 'measurement'"}], "mark": {"type": "line", "strokeWidth": 3}},
        {"transform": [{"filter": "datum.series === 'filtered meas.'"}], "mark": {"type": "line", "strokeWidth": 4}},
        {"transform": [{"filter": "datum.series === 'goal shape'"}], "mark": {"type": "line", "strokeWidth": 5},
         "encoding": {
           "x": {"field": "t", "type": "quantitative", "scale": {"domain": [0, 1], "nice": false, "zero": false},
                 "axis": {"orient": "top", "title": null, "labels": false, "grid": false, "values": [0, 0.2, 0.4, 0.6, 0.8, 1]}},
           "y": {"field": "v", "type": "quantitative", "scale": {"domain": [0, 1.1], "nice": false},
                 "axis": {"orient": "right", "title": null, "labels": false, "grid": false, "values": [0, 0.2, 0.4, 0.6, 0.8, 1]}}
         }}
      ]
    }
  ]
}
